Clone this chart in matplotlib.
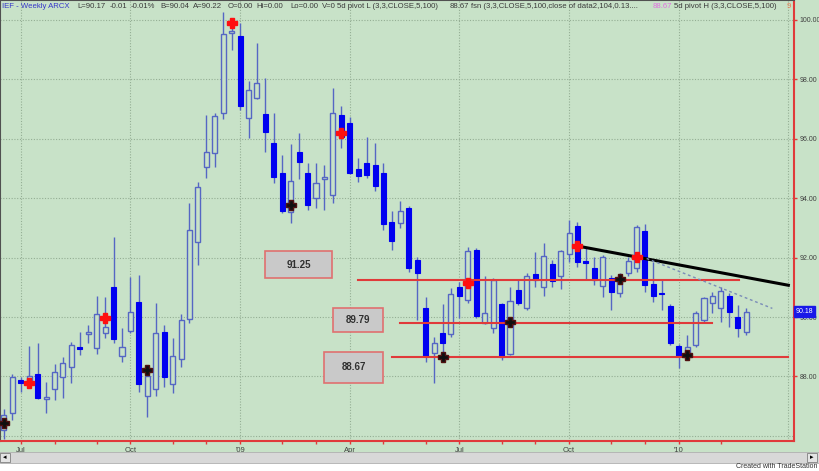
import numpy as np
import pandas as pd
import matplotlib
matplotlib.use('Agg')
import matplotlib.pyplot as plt
from matplotlib.patches import Rectangle

# IEF weekly bars, Jun 2008 - Feb 2010
opens = [86.20, 86.77, 87.88, 87.78, 88.08, 87.24, 87.58, 87.98, 88.32, 88.99,
         89.43, 88.96, 89.46, 91.01, 88.69, 89.53, 90.51, 87.34, 87.58, 89.49,
         87.74, 88.59, 89.93, 92.53, 95.05, 95.52, 96.87, 99.56, 99.46, 96.70,
         97.37, 96.84, 95.86, 94.85, 93.54, 95.56, 94.85, 94.01, 94.65, 94.11,
         96.80, 96.53, 94.98, 95.19, 95.12, 94.85, 93.20, 93.16, 93.67, 91.92,
         90.30, 88.79, 89.46, 89.43, 91.01, 90.57, 92.26, 89.80, 89.63, 90.44,
         88.75, 90.91, 90.30, 91.45, 91.01, 91.78, 91.38, 92.12, 93.06, 91.89,
         91.65, 91.04, 91.31, 90.81, 91.48, 91.65, 92.90, 91.11, 90.81, 90.37,
         89.02, 88.72, 89.06, 89.90, 90.47, 90.30, 90.71, 90.00, 89.49]
highs = [86.90, 88.08, 87.98, 89.02, 89.12, 87.81, 88.42, 88.65, 89.16, 89.49,
         89.73, 90.71, 90.67, 92.69, 89.63, 91.35, 91.41, 88.22, 90.47, 89.73,
         89.29, 90.10, 93.84, 94.55, 96.80, 96.87, 100.27, 99.73, 99.90, 97.95,
         99.23, 98.05, 96.87, 95.45, 95.82, 96.20, 95.19, 95.19, 95.12, 97.71,
         97.10, 96.73, 95.35, 96.06, 95.86, 95.19, 93.57, 93.91, 93.74, 92.02,
         90.67, 89.33, 90.44, 90.98, 91.18, 92.36, 92.32, 91.38, 91.31, 90.47,
         91.01, 91.25, 91.48, 92.19, 92.49, 91.92, 92.26, 93.27, 93.20, 92.36,
         92.02, 92.09, 91.41, 91.48, 92.02, 93.10, 93.13, 91.85, 91.25, 90.44,
         89.09, 89.39, 90.20, 90.67, 90.84, 91.01, 90.81, 90.40, 90.30]
lows = [85.90, 86.53, 87.47, 87.61, 87.24, 86.77, 87.21, 87.27, 87.78, 88.72,
        89.12, 88.75, 89.29, 89.12, 88.48, 89.46, 87.47, 86.63, 87.34, 87.64,
        87.44, 88.32, 89.80, 91.75, 94.68, 95.05, 96.67, 98.99, 96.97, 96.03,
        97.34, 95.56, 94.51, 93.50, 93.16, 94.65, 93.60, 93.67, 93.60, 93.84,
        95.69, 94.81, 94.55, 94.68, 94.24, 92.93, 92.26, 93.00, 91.52, 89.90,
        88.48, 87.78, 88.55, 89.33, 89.97, 90.47, 89.97, 89.76, 89.46, 88.55,
        88.72, 90.40, 90.24, 91.01, 90.71, 91.01, 90.94, 91.85, 91.68, 91.28,
        91.08, 90.67, 90.24, 90.67, 91.38, 91.52, 90.84, 90.51, 90.24, 89.06,
        88.28, 88.62, 88.99, 89.80, 90.13, 89.83, 89.66, 89.33, 89.40]
closes = [86.70, 87.98, 87.78, 88.01, 87.27, 87.31, 88.15, 88.45, 89.06, 88.92,
          89.49, 90.10, 89.66, 89.26, 88.99, 90.17, 87.74, 88.01, 89.46, 87.98,
          88.69, 89.90, 92.93, 94.38, 95.56, 96.77, 99.53, 99.63, 97.10, 97.64,
          97.88, 96.23, 94.71, 93.57, 94.58, 95.22, 93.77, 94.51, 94.71, 96.87,
          96.06, 94.85, 94.75, 94.78, 94.41, 93.13, 92.56, 93.57, 91.65, 91.48,
          88.69, 89.12, 89.12, 90.77, 90.71, 92.22, 90.03, 90.13, 91.25, 88.65,
          90.54, 90.47, 91.38, 91.25, 92.05, 91.21, 92.22, 92.83, 91.85, 91.82,
          91.25, 92.02, 90.84, 91.31, 91.89, 93.03, 91.08, 90.71, 90.77, 89.12,
          88.69, 88.99, 90.13, 90.64, 90.71, 90.88, 90.17, 89.63, 90.17]

pivot_hi_idx = [3, 12, 27, 40, 55, 68, 75]
pivot_hi_px = [87.78, 89.97, 99.90, 96.20, 91.14, 92.39, 92.02]
pivot_lo_idx = [0, 17, 34, 52, 60, 73, 81]
pivot_lo_px = [86.43, 88.22, 93.77, 88.65, 89.83, 91.28, 88.72]

levels = [91.25, 89.79, 88.67]
level_from = [42, 47, 46]
level_to = [87.1, 84, 93]

month_labels = ['Jul', 'Oct', "'09", 'Apr', 'Jul', 'Oct', "'10"]
last_price = 90.18

BG = '#c8e2c8'
HOLLOW = '#5566c4'
FILLED = '#0000f0'
RED = '#e03a3a'
W, H = 820, 471

def fx(x):
    return x / W

def fy(y):
    return 1 - y / H

fig = plt.figure(figsize=(8.2, 4.71), dpi=100)
fig.patch.set_facecolor(BG)
ax = fig.add_axes([0, fy(440.5), fx(794), (440.5) / H])
ax.set_facecolor(BG)

n = len(opens)
idx = np.arange(n)
o = np.array(opens)
c = np.array(closes)
up = c >= o
bottoms = np.minimum(o, c)
heights = np.maximum(np.abs(c - o), 0.05)

# weekly dates, used for the quarter grid / labels
dates = pd.date_range('2008-06-20', periods=n + 6, freq='W-FRI')
firsts = [i for i in range(1, len(dates)) if dates[i].month != dates[i - 1].month]
quarters = [i for i in firsts if dates[i].month in (1, 4, 7, 10)]
minor = [i for i in firsts if i not in quarters]

ax.set_xlim(-3.9 / 8.435, (794 - 3.9) / 8.435)
ax.set_ylim(100 - 420.5 / 29.7, 100 + 20 / 29.7)

for p in range(86, 101, 2):
    ax.axhline(p, color='#94ae94', lw=0.8, ls=(0, (1, 1.5)), zorder=1)
for q in quarters:
    ax.axvline(q, color='#94ae94', lw=0.8, ls=(0, (1, 1.5)), zorder=1)

ax.vlines(idx, lows, highs, color=HOLLOW, lw=1.0, zorder=3)
ax.bar(idx[up], heights[up], bottom=bottoms[up], width=0.6,
       facecolor=BG, edgecolor=HOLLOW, lw=1.0, zorder=4)
ax.bar(idx[~up], heights[~up], bottom=bottoms[~up], width=0.6,
       facecolor=FILLED, edgecolor=FILLED, lw=0.8, zorder=4)

# support / resistance levels
for lv, a, b in zip(levels, level_from, level_to):
    ax.plot([a, b], [lv, lv], color=RED, lw=1.5, zorder=5)

# trend lines through the last two pivot highs, and the dotted one
i1, i2 = pivot_hi_idx[-2], pivot_hi_idx[-1]
slope = (pivot_hi_px[-1] - pivot_hi_px[-2]) / (i2 - i1)
ax.plot([i1, 93], [pivot_hi_px[-2], pivot_hi_px[-2] + slope * (93 - i1)],
        color='black', lw=2.2, zorder=6)
ax.plot([76.2, 91.1], [91.97, 90.29], color='#7a8cb8', lw=1.0,
        ls=(0, (2, 2)), zorder=6)

ax.plot(pivot_hi_idx, pivot_hi_px, ls='none', marker='P', ms=7,
        color='#ff1010', mec='#ff1010', zorder=7)
ax.plot(pivot_lo_idx, pivot_lo_px, ls='none', marker='P', ms=7,
        color='#101010', mec='#501010', zorder=7)

# level labels
for (x0, x1, y0, y1), lv in zip([(30.96, 38.9, 91.31, 92.22),
                                 (39.0, 45.0, 89.49, 90.30),
                                 (37.96, 44.96, 87.78, 88.82)], levels):
    ax.add_patch(Rectangle((x0, y0), x1 - x0, y1 - y0, facecolor='#c9c9c9',
                           edgecolor='#e07070', lw=1.2, zorder=8))
    ax.text((x0 + x1) / 2, (y0 + y1) / 2, '%.2f' % lv, ha='center', va='center',
            fontsize=7, fontweight='bold', color='#303030',
            family='Liberation Sans', zorder=9)

# axes styling
for s in ['top', 'left']:
    ax.spines[s].set_color('#505050')
    ax.spines[s].set_linewidth(1.5)
for s in ['right', 'bottom']:
    ax.spines[s].set_color(RED)
    ax.spines[s].set_linewidth(1.5)

ax.yaxis.tick_right()
ax.set_yticks(range(88, 101, 2))
ax.set_yticklabels(['%.2f' % v for v in range(88, 101, 2)])
ax.tick_params(axis='y', length=2, width=1, color=RED, labelcolor='#404040',
               labelsize=5, pad=2)
ax.set_xticks(quarters[:len(month_labels)])
ax.set_xticklabels(month_labels)
ax.set_xticks(minor[:-1], minor=True)
ax.tick_params(axis='x', which='both', length=2.5, width=1, color=RED,
               labelcolor='#404040', labelsize=5.5, pad=2)
for lab in ax.get_xticklabels() + ax.get_yticklabels():
    lab.set_family('Liberation Sans')

ax.text(1.002, last_price, '%.2f' % last_price, transform=ax.get_yaxis_transform(),
        ha='left', va='center', fontsize=5, color='white',
        family='Liberation Sans', zorder=10,
        bbox=dict(boxstyle='square,pad=0.25', fc='#1818e8', ec='#1818e8'))

# status line at the top
dark = '#3a3a3a'
segments = [(2, 'IEF - Weekly ARCX', '#3636c8'), (77, 'L=90.17', dark),
            (110, '-0.01', dark), (131, '-0.01%', dark), (160, 'B=90.04', dark),
            (193, 'A=90.22', dark), (228, 'O=0.00', dark), (256, 'Hi=0.00', dark),
            (290, 'Lo=0.00', dark), (322, 'V=0', dark),
            (337, '5d pivot L (3,3,CLOSE,5,100)', dark), (450, '88.67', dark),
            (471, 'fsn (3,3,CLOSE,5,100,close of data2,104,0.13....', dark),
            (653, '88.67', '#e070e0'), (674, '5d pivot H (3,3,CLOSE,5,100)', dark),
            (787, '9', '#f07850')]
for x, s, col in segments:
    fig.text(fx(x), fy(6), s, ha='left', va='center', fontsize=5.6, color=col,
             family='Liberation Sans')

# scroll bar and footer
fig.add_artist(Rectangle((0, 0), 1, fy(463), transform=fig.transFigure,
                         facecolor='white', edgecolor='none'))
fig.add_artist(Rectangle((0, fy(463)), 1, 11 / H, transform=fig.transFigure,
                         facecolor='#d8d8d8', edgecolor='#b0b0b0', lw=0.6))
for x0 in (0, 807):
    fig.add_artist(Rectangle((fx(x0), fy(462)), fx(10), 9 / H,
                             transform=fig.transFigure, facecolor='#e4e4e4',
                             edgecolor='#808080', lw=0.6))
fig.text(fx(5), fy(457.5), '\u25c2', ha='center', va='center', fontsize=5, color='black')
fig.text(fx(812), fy(457.5), '\u25b8', ha='center', va='center', fontsize=5, color='black')
fig.text(fx(818), fy(467), 'Created with TradeStation', ha='right', va='center',
         fontsize=5, color='#303030', family='Liberation Sans')

plt.savefig('out.png', dpi=100, facecolor=fig.get_facecolor())
